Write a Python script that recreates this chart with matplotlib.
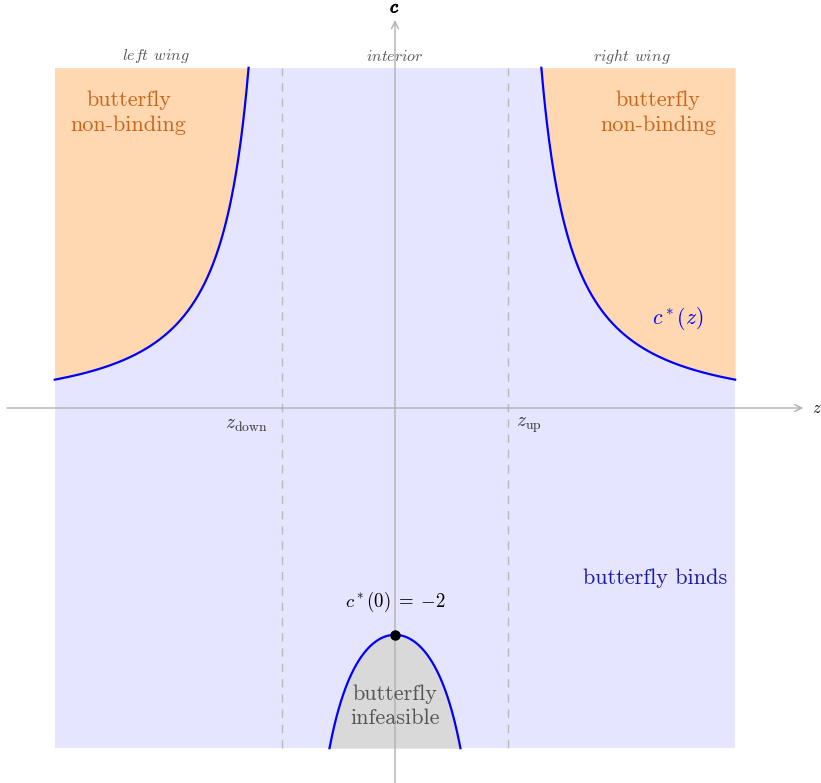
import numpy as np
import matplotlib
matplotlib.use("Agg")
import matplotlib.pyplot as plt
import matplotlib.patheffects as pe

plt.rcParams["mathtext.fontset"] = "cm"
plt.rcParams["font.family"] = "serif"
plt.rcParams["font.serif"] = ["cmr10", "DejaVu Serif"]
plt.rcParams["axes.formatter.use_mathtext"] = True

# model: c*(z) = c0 / (1 - z^2), thresholds at z_down / z_up
c0 = -2.0
z_down, z_up = -1.0, 1.0
z_lim = 3.0
c_lim = 3.0

region_labels = ["left wing", "interior", "right wing"]
region_x = [-2.11, 0.0, 2.09]


def c_star(z):
    return c0 / (1.0 - z ** 2)


fig = plt.figure(figsize=(8.21, 7.83), dpi=100)
ax = fig.add_axes([0, 0, 1, 1])
ax.set_xlim(-3.483, 3.757)
ax.set_ylim(-3.307, 3.598)
ax.axis("off")

LAV = "#e5e5ff"
ORANGE = "#ffd8b2"
GRAY = "#d9d9d9"

# background: butterfly binds everywhere in the box
ax.fill_between([-z_lim, z_lim], -c_lim, c_lim, color=LAV, lw=0, zorder=0)

# wings: curve crosses top of box at |z| = sqrt(1 - c0/c_lim)
z_top = np.sqrt(1.0 - c0 / c_lim)
zr = np.linspace(z_top, z_lim, 400)
ax.fill_between(zr, c_star(zr), c_lim, color=ORANGE, lw=0, zorder=1)
ax.fill_between(-zr, c_star(zr), c_lim, color=ORANGE, lw=0, zorder=1)

# interior: curve crosses bottom of box at |z| = sqrt(1 + c0/c_lim)
z_bot = np.sqrt(1.0 + c0 / c_lim)
zi = np.linspace(-z_bot, z_bot, 400)
ax.fill_between(zi, -c_lim, c_star(zi), color=GRAY, lw=0, zorder=1)

# thresholds
for zt in (z_down, z_up):
    ax.plot([zt, zt], [-c_lim, c_lim], color="#bababa", lw=1.0,
            ls=(0, (6, 5)), zorder=2)

# axes with arrows
axis_col = "#b0b0b0"
ax.annotate("", xy=(3.6, 0), xytext=(-3.42, 0),
            arrowprops=dict(arrowstyle="->,head_length=0.5,head_width=0.25",
                            color=axis_col, lw=1.0, shrinkA=0, shrinkB=0),
            zorder=3)
ax.annotate("", xy=(0, 3.42), xytext=(0, -3.31),
            arrowprops=dict(arrowstyle="->,head_length=0.5,head_width=0.25",
                            color=axis_col, lw=1.0, shrinkA=0, shrinkB=0),
            zorder=3)

# c*(z) curve
ax.plot(zr, c_star(zr), color="blue", lw=1.6, zorder=4)
ax.plot(-zr, c_star(zr), color="blue", lw=1.6, zorder=4)
ax.plot(zi, c_star(zi), color="blue", lw=1.6, zorder=4)
ax.plot([0], [c_star(0.0)], "o", color="black", ms=6.5, zorder=5)

# labels
ax.text(3.68, 0, r"$z$", fontsize=12, ha="left", va="center")
ax.text(0, 3.53, r"$c$", fontsize=13, ha="center", va="center",
        path_effects=[pe.withStroke(linewidth=0.7, foreground="black")])

for lab, xx in zip(region_labels, region_x):
    ax.text(xx, 3.10, "$" + lab.replace(" ", r"\;\,") + "$", fontsize=11.5,
            color="#555555", ha="center", va="center")

ax.text(-1.12, -0.15, r"$z_{\mathrm{down}}$", fontsize=14, color="#333333",
        ha="right", va="center")
ax.text(1.07, -0.15, r"$z_{\mathrm{up}}$", fontsize=14, color="#333333",
        ha="left", va="center")

orange_txt = "#c8661a"
ax.text(-2.35, 2.60, "butterfly\nnon-binding", fontsize=16, color=orange_txt,
        ha="center", va="center", linespacing=1.35)
ax.text(2.32, 2.60, "butterfly\nnon-binding", fontsize=16, color=orange_txt,
        ha="center", va="center", linespacing=1.35)

ax.text(2.49, 0.79, r"$c^*(z)$", fontsize=15.5, color="blue",
        ha="center", va="center")
ax.text(2.29, -1.50, "butterfly binds", fontsize=16, color="#1a1aa6",
        ha="center", va="center")
ax.text(0, -1.71, r"$c^*(0)\;=\;{-}%d$" % abs(c0), fontsize=13.5,
        color="black", ha="center", va="center")
ax.text(0, -2.63, "butterfly\ninfeasible", fontsize=16, color="#555555",
        ha="center", va="center", linespacing=1.35)

fig.savefig("out.png", dpi=100)
